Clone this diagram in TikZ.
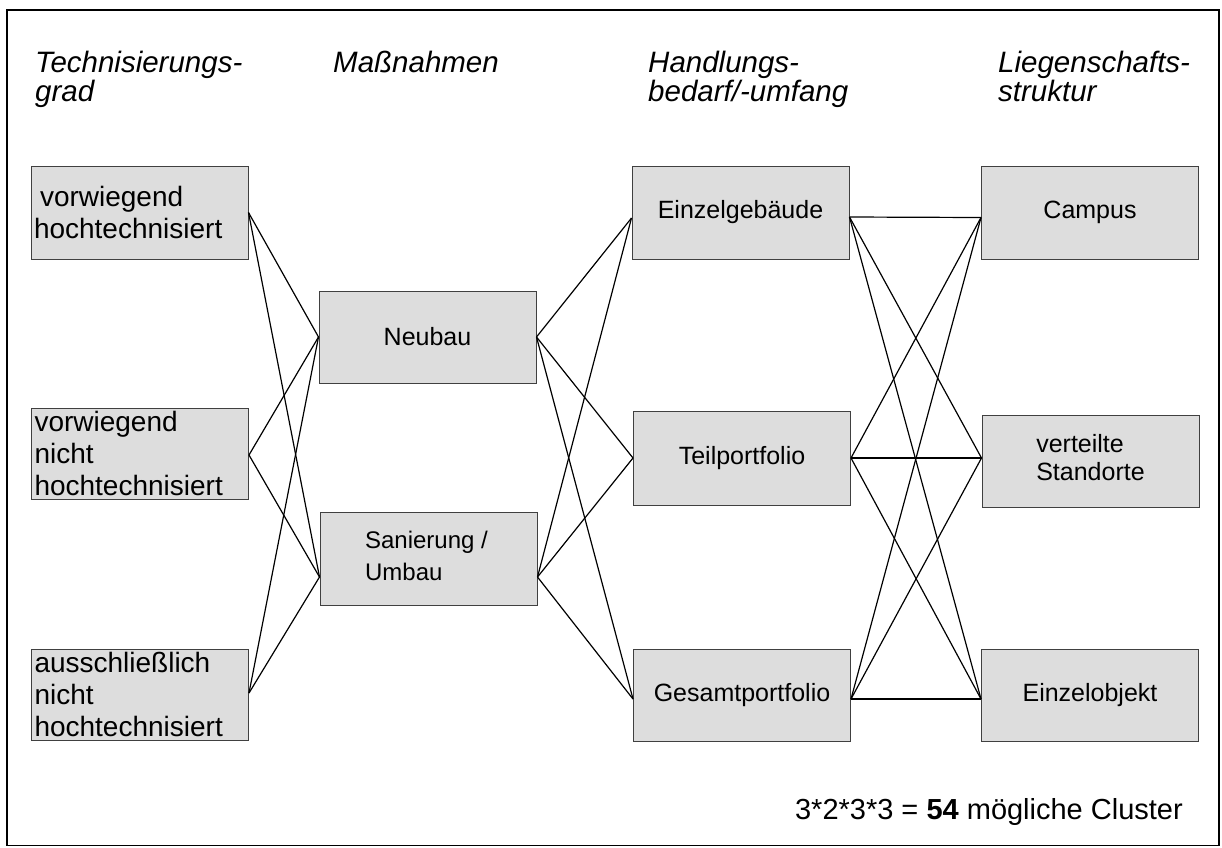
\documentclass[tikz,border=0pt]{standalone}
\usepackage{fontspec}
\setmainfont{Liberation Sans}
\begin{document}
\begin{tikzpicture}[x=1pt,y=-1pt,
  box/.style={draw={rgb,255:red,64;green,64;blue,64},line width=1pt,
    fill={rgb,255:red,221;green,221;blue,221},minimum width=217pt,
    minimum height=93pt,inner sep=0pt,font=\fontsize{25}{31}\selectfont},
  lbox/.style={box,text width=211pt,inner xsep=3pt,align=left,
    font=\fontsize{28}{32}\selectfont},
  cbox/.style={box,align=center},
  hdr/.style={anchor=north west,align=left,inner sep=0pt,
    font=\fontsize{29.5}{28.5}\selectfont\itshape},
  conn/.style={line width=1.2pt,black}]
\useasboundingbox (0,0) rectangle (1222,847);
\draw[line width=1.5pt] (7,10) rectangle (1219,845.5);
% headers
\node[hdr] (H1) at (35,51) {Technisierungs-\\grad};
\node[hdr] (H2) at (333,51) {Maßnahmen};
\node[hdr] (H3) at (648,51) {Handlungs-\\bedarf/-umfang};
\node[hdr] (H4) at (998,51) {Liegenschafts-\\struktur};
% column 1
\node[lbox] (t1) at (139.5,212.5) {\hspace*{6pt}vorwiegend\\hochtechnisiert};
\node[lbox,minimum height=91pt] (t2) at (140,453.5) {vorwiegend\\nicht\\hochtechnisiert};
\node[lbox,minimum height=91pt] (t3) at (140,694.5) {ausschließlich\\nicht\\hochtechnisiert};
% column 2
\node[cbox,minimum height=92pt] (m1) at (427.5,337) {Neubau};
\node[box,font=\fontsize{24}{32}\selectfont] (m2) at (428.5,558.5) {\hspace*{-4pt}\begin{tabular}{@{}l@{}}Sanierung /\\Umbau\end{tabular}};
% column 3
\node[cbox] (h1) at (740.5,212.5) {Einzelgebäude};
\node[cbox,minimum height=94pt] (h2) at (742,458) {Teilportfolio};
\node[cbox,minimum height=92pt] (h3) at (742,695) {Gesamtportfolio};
% column 4
\node[cbox] (l1) at (1090,212.5) {Campus};
\node[box,minimum height=92pt] (l2) at (1090.5,461) {\fontsize{25}{27.5}\selectfont\begin{tabular}{@{}l@{}}verteilte\\Standorte\end{tabular}};
\node[cbox,minimum height=92pt] (l3) at (1090,695) {Einzelobjekt};
% attachment points
\coordinate (t1e) at (t1.east);
\coordinate (t2e) at ([yshift=-1.5pt]t2.east);
\coordinate (t3e) at ([yshift=1.5pt]t3.east);
\coordinate (m1w) at (m1.west);
\coordinate (m1e) at (m1.east);
\coordinate (m2w) at ([yshift=-18.5pt]m2.west);
\coordinate (m2e) at ([yshift=-18.5pt]m2.east);
\coordinate (h1w) at ([yshift=-5.5pt]h1.west);
\coordinate (h1e) at ([yshift=-4.5pt]h1.east);
\coordinate (h2w) at (h2.west);
\coordinate (h2e) at (h2.east);
\coordinate (h3w) at ([yshift=-4pt]h3.west);
\coordinate (h3e) at ([yshift=-4pt]h3.east);
\coordinate (l1w) at ([yshift=-5pt]l1.west);
\coordinate (l2w) at ([yshift=3pt]l2.west);
\coordinate (l3w) at ([yshift=-4pt]l3.west);
% connectors
\foreach \a in {t1e,t2e,t3e}{\foreach \b in {m1w,m2w}{\draw[conn] (\a) -- (\b);}}
\foreach \a in {m1e,m2e}{\foreach \b in {h1w,h2w,h3w}{\draw[conn] (\a) -- (\b);}}
\foreach \a in {h1e,h2e,h3e}{\foreach \b in {l1w,l2w,l3w}{\draw[conn] (\a) -- (\b);}}
% bottom text
\node[anchor=base east,inner sep=0pt,font=\fontsize{29}{34}\selectfont] (sum) at (1183,819) {3*2*3*3 = \textbf{54} mögliche Cluster};
\end{tikzpicture}
\end{document}
